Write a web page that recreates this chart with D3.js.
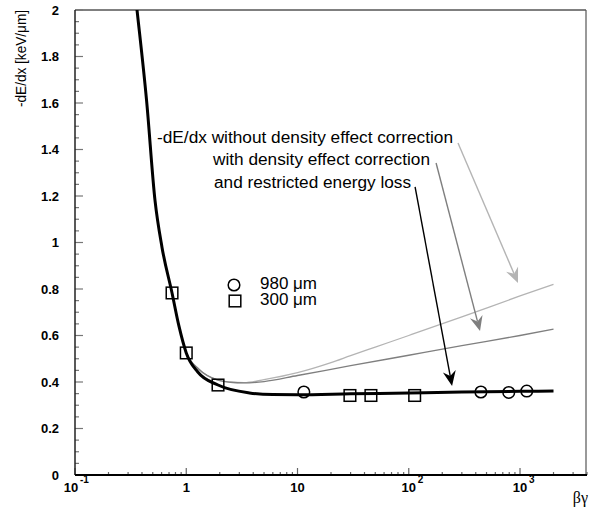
<!DOCTYPE html>
<html>
<head>
<meta charset="utf-8">
<script src="https://cdn.jsdelivr.net/npm/d3@7"></script>
<style>
  body { margin: 0; background: #fff; }
  svg { display: block; }
</style>
</head>
<body>
<svg id="chart" width="589" height="516"></svg>
<script>
// curves, [beta*gamma, -dE/dx in keV/um]
var restricted = [[0.33, 2.17], [0.361, 2.0], [0.44, 1.61], [0.524, 1.18], [0.605, 0.98], [0.745, 0.783],
    [0.86, 0.64], [1.0, 0.525], [1.27, 0.443], [1.93, 0.387], [3.7, 0.353], [6, 0.346], [10, 0.345],
    [30, 0.349], [100, 0.353], [300, 0.357], [1000, 0.36], [2000, 0.361]];
var withDensity = [[0.33, 2.17], [0.361, 2.0], [0.44, 1.61], [0.524, 1.18], [0.605, 0.98], [0.745, 0.783],
    [0.86, 0.64], [1.0, 0.527], [1.3, 0.455], [1.93, 0.408], [2.5, 0.399], [3.3, 0.396], [5, 0.402],
    [10, 0.428], [30, 0.47], [100, 0.515], [300, 0.556], [1000, 0.6], [2000, 0.627]];
var noDensity = [[0.33, 2.17], [0.361, 2.0], [0.44, 1.61], [0.524, 1.18], [0.605, 0.98], [0.745, 0.783],
    [0.86, 0.64], [1.0, 0.527], [1.3, 0.455], [1.93, 0.408], [2.5, 0.399], [3.3, 0.397], [5, 0.41],
    [10, 0.44], [20, 0.483], [30, 0.513], [50, 0.55], [100, 0.6], [300, 0.68], [1000, 0.77], [2000, 0.82]];

// measured points
var pts980 = [[11.4, 0.357], [445, 0.357], [792, 0.355], [1150, 0.361]];
var pts300 = [[0.745, 0.783], [1.0, 0.525], [1.93, 0.387], [29.6, 0.342], [45.7, 0.342], [113, 0.342]];

// axis ticks
var yTicks = [0, 0.2, 0.4, 0.6, 0.8, 1, 1.2, 1.4, 1.6, 1.8, 2];
var yLabels = ["0", "0.2", "0.4", "0.6", "0.8", "1", "1.2", "1.4", "1.6", "1.8", "2"];
var xTicks = [0.1, 1, 10, 100, 1000];
var xLabels = [["10", "-1"], ["1", ""], ["10", ""], ["10", "2"], ["10", "3"]];

var svg = d3.select("#chart");
var pLeft = 75, pRight = 587, pTop = 10, pBottom = 475;

var x = d3.scaleLog().domain([0.1, 4000]).range([pLeft, pRight]);
var y = d3.scaleLinear().domain([0, 2]).range([pBottom, pTop]);

svg.append("clipPath").attr("id", "plotclip")
    .append("rect").attr("x", pLeft).attr("y", pTop)
    .attr("width", pRight - pLeft).attr("height", pBottom - pTop);

// frame
svg.append("line").attr("x1", pLeft).attr("x2", pRight - 1).attr("y1", pTop).attr("y2", pTop)
    .attr("stroke", "#000").attr("stroke-width", 1);
svg.append("line").attr("x1", pRight - 1).attr("x2", pRight - 1).attr("y1", pTop).attr("y2", pBottom)
    .attr("stroke", "#555").attr("stroke-width", 1.2);

// y ticks (inside)
var yMinor = d3.range(0, 2.001, 0.05);
svg.selectAll(".ytick").data(yMinor).enter().append("line")
    .attr("x1", pLeft).attr("y1", d => y(d)).attr("y2", d => y(d))
    .attr("x2", d => Math.abs(d / 0.2 - Math.round(d / 0.2)) < 1e-6 ? pLeft + 8 : pLeft + 4)
    .attr("stroke", "#777").attr("stroke-width", 1.2);
svg.selectAll(".ylab").data(yTicks).enter().append("text")
    .attr("x", 59).attr("y", d => y(d) + 4.5)
    .attr("text-anchor", "end")
    .style("font", "bold 13px 'Liberation Sans', Arial, sans-serif")
    .text((d, i) => yLabels[i]);

// x ticks (inside)
var xMinor = [];
[0.1, 1, 10, 100, 1000].forEach(function (p) {
    for (var k = 1; k < 10; k++) if (p * k <= 4000) xMinor.push(p * k);
});
svg.selectAll(".xtick").data(xMinor).enter().append("line")
    .attr("x1", d => x(d)).attr("x2", d => x(d)).attr("y1", pBottom)
    .attr("y2", d => xTicks.indexOf(d) >= 0 ? pBottom - 7 : pBottom - 3)
    .attr("stroke", "#666").attr("stroke-width", 1.2);

var xl = svg.selectAll(".xlab").data(xTicks).enter().append("g")
    .attr("transform", (d, i) => "translate(" + (x(d) - (i == 0 ? 4 : 0)) + ",0)");
xl.append("text").attr("y", 492).attr("text-anchor", "middle")
    .style("font", "bold 13px 'Liberation Sans', Arial, sans-serif")
    .text((d, i) => xLabels[i][0]);
xl.append("text").attr("x", 9).attr("y", 483)
    .style("font", "bold 10px 'Liberation Sans', Arial, sans-serif")
    .text((d, i) => xLabels[i][1]);

// axis lines
svg.append("line").attr("x1", pLeft).attr("x2", pLeft).attr("y1", pTop).attr("y2", pBottom)
    .attr("stroke", "#222").attr("stroke-width", 1.5);
svg.append("line").attr("x1", pLeft).attr("x2", pRight).attr("y1", pBottom).attr("y2", pBottom)
    .attr("stroke", "#000").attr("stroke-width", 2);

// axis titles
svg.append("text").attr("transform", "translate(26," + pTop + ") rotate(-90)")
    .attr("text-anchor", "end")
    .attr("textLength", 97).attr("lengthAdjust", "spacingAndGlyphs")
    .style("font", "14px 'Liberation Sans', Arial, sans-serif")
    .text("-dE/dx [keV/\u03bcm]");
svg.append("text").attr("x", 588).attr("y", 503).attr("text-anchor", "end")
    .style("font", "16px 'Liberation Serif', 'Times New Roman', serif")
    .text("\u03b2\u03b3");

// curves
var line = d3.line().x(d => x(d[0])).y(d => y(d[1])).curve(d3.curveMonotoneX);
var plot = svg.append("g").attr("clip-path", "url(#plotclip)");
plot.append("path").datum(noDensity).attr("d", line)
    .attr("fill", "none").attr("stroke", "#b4b4b4").attr("stroke-width", 1.3);
plot.append("path").datum(withDensity).attr("d", line)
    .attr("fill", "none").attr("stroke", "#7f7f7f").attr("stroke-width", 1.3);
plot.append("path").datum(restricted).attr("d", line)
    .attr("fill", "none").attr("stroke", "#000").attr("stroke-width", 3);

// markers
plot.selectAll(".c980").data(pts980).enter().append("circle")
    .attr("cx", d => x(d[0])).attr("cy", d => y(d[1])).attr("r", 5.8)
    .attr("fill", "none").attr("stroke", "#000").attr("stroke-width", 1.5);
plot.selectAll(".s300").data(pts300).enter().append("rect")
    .attr("x", d => x(d[0]) - 5.8).attr("y", d => y(d[1]) - 5.8)
    .attr("width", 11.6).attr("height", 11.6)
    .attr("fill", "none").attr("stroke", "#000").attr("stroke-width", 1.5);

// legend
svg.append("circle").attr("cx", 234).attr("cy", 285).attr("r", 5.8)
    .attr("fill", "none").attr("stroke", "#000").attr("stroke-width", 1.5);
svg.append("rect").attr("x", 229.2).attr("y", 295.2).attr("width", 11.6).attr("height", 11.6)
    .attr("fill", "none").attr("stroke", "#000").attr("stroke-width", 1.5);
svg.append("text").attr("x", 260).attr("y", 289).attr("textLength", 57).attr("lengthAdjust", "spacingAndGlyphs")
    .style("font", "16px 'Liberation Sans', Arial, sans-serif").text("980 \u03bcm");
svg.append("text").attr("x", 260).attr("y", 305).attr("textLength", 57).attr("lengthAdjust", "spacingAndGlyphs")
    .style("font", "16px 'Liberation Sans', Arial, sans-serif").text("300 \u03bcm");

// annotations: text, arrow start and tip in data units
var notes = [
    { text: "-dE/dx without density effect correction", tx: 157, ty: 143, len: 296,
      from: [277, 1.428], to: [959, 0.826], color: "#b4b4b4" },
    { text: "with density effect correction", tx: 213, ty: 165, len: 217,
      from: [176, 1.342], to: [437, 0.619], color: "#7f7f7f" },
    { text: "and restricted energy loss", tx: 214, ty: 188, len: 197,
      from: [114, 1.239], to: [245, 0.383], color: "#000" }
];
notes.forEach(function (n) {
    svg.append("text").attr("x", n.tx).attr("y", n.ty)
        .attr("textLength", n.len).attr("lengthAdjust", "spacingAndGlyphs")
        .style("font", "16px 'Liberation Sans', Arial, sans-serif")
        .text(n.text);
    var x0 = x(n.from[0]), y0 = y(n.from[1]), x1 = x(n.to[0]), y1 = y(n.to[1]);
    var ang = Math.atan2(y1 - y0, x1 - x0);
    var L = 15, W = 6.5, notch = 10;
    var ux = Math.cos(ang), uy = Math.sin(ang), px = -uy, py = ux;
    svg.append("line").attr("x1", x0).attr("y1", y0)
        .attr("x2", x1 - ux * notch).attr("y2", y1 - uy * notch)
        .attr("stroke", n.color).attr("stroke-width", 1.4);
    var head = [
        [x1, y1],
        [x1 - ux * L + px * W, y1 - uy * L + py * W],
        [x1 - ux * notch, y1 - uy * notch],
        [x1 - ux * L - px * W, y1 - uy * L - py * W]
    ];
    svg.append("path").attr("d", "M" + head.map(p => p.join(",")).join("L") + "Z")
        .attr("fill", n.color);
});
</script>
</body>
</html>
